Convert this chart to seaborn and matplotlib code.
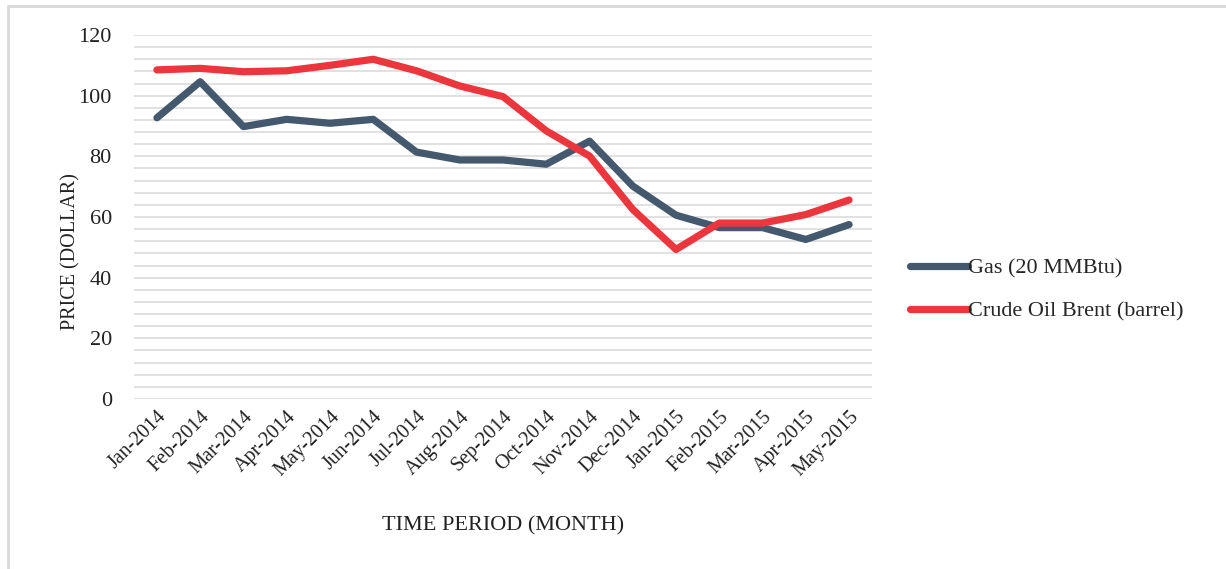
import numpy as np
import pandas as pd
import seaborn as sns
import matplotlib.pyplot as plt
from matplotlib.lines import Line2D

# Data
months = ["Jan-2014", "Feb-2014", "Mar-2014", "Apr-2014", "May-2014", "Jun-2014",
          "Jul-2014", "Aug-2014", "Sep-2014", "Oct-2014", "Nov-2014", "Dec-2014",
          "Jan-2015", "Feb-2015", "Mar-2015", "Apr-2015", "May-2015"]
gas = [92.7, 104.6, 89.8, 92.2, 90.9, 92.2, 81.4, 78.8, 78.8, 77.4, 85.0, 70.2,
       60.6, 56.5, 56.5, 52.6, 57.5]
oil = [108.5, 109.0, 107.9, 108.2, 110.0, 112.0, 108.2, 103.2, 99.7, 88.4, 80.1, 62.5,
       49.3, 58.0, 58.0, 60.8, 65.6]
series_names = ["Gas (20 MMBtu)", "Crude Oil Brent (barrel)"]
colors = ["#44586E", "#EC363D"]

df = pd.DataFrame({"month": months * 2,
                   "price": gas + oil,
                   "series": [series_names[0]] * len(months) + [series_names[1]] * len(months)})
df["pos"] = list(range(len(months))) * 2

sns.set_theme(style="white")
plt.rcParams["font.family"] = ["Liberation Serif", "DejaVu Serif"]

fig = plt.figure(figsize=(12.26, 5.69), dpi=100)
ax = fig.add_axes([134 / 1226, 1 - 399 / 569, (872 - 134) / 1226, (399 - 35) / 569])

sns.lineplot(data=df, x="pos", y="price", hue="series", hue_order=series_names,
             palette=colors, linewidth=5.2, ax=ax, legend=True,
             solid_capstyle="round", solid_joinstyle="round")

ax.set_ylim(0, 120)
ax.set_xlim(-0.53, len(months) - 1 + 0.53)
ax.set_yticks(np.arange(0, 121, 20))
ax.set_yticks(np.arange(0, 121, 4), minor=True)
ax.grid(which="both", axis="y", color="#D9D9D9", linewidth=1.1)
ax.set_axisbelow(True)
ax.set_xticks(range(len(months)))
ax.set_xticklabels(months, rotation=45, ha="right", rotation_mode="anchor")
ax.tick_params(axis="both", which="both", length=0, colors="#222222")
ax.tick_params(axis="x", pad=6, labelsize=14.5)
ax.tick_params(axis="y", pad=16, labelsize=16)
for s in ax.spines.values():
    s.set_visible(False)

ax.set_xlabel("TIME PERIOD (MONTH)", fontsize=16, color="#222222", labelpad=26)
ax.set_ylabel("PRICE (DOLLAR)", fontsize=14.5, color="#222222")
ax.yaxis.set_label_coords(-0.072, 0.404)

handles, labels = ax.get_legend_handles_labels()
ax.legend(handles, labels, loc="center left", bbox_to_anchor=(901 / 1226, 1 - 290 / 569),
          bbox_transform=fig.transFigure, frameon=False, fontsize=16,
          handlelength=2.6, handletextpad=0.0, labelspacing=1.0, borderaxespad=0)

# light frame on top and left of the image
fig.add_artist(Line2D([8 / 1226, 1], [1 - 6 / 569, 1 - 6 / 569], transform=fig.transFigure,
                      color="#D9D9D9", linewidth=2))
fig.add_artist(Line2D([8 / 1226, 8 / 1226], [0, 1 - 6 / 569], transform=fig.transFigure,
                      color="#D9D9D9", linewidth=2))

fig.savefig("out.png", dpi=100)
